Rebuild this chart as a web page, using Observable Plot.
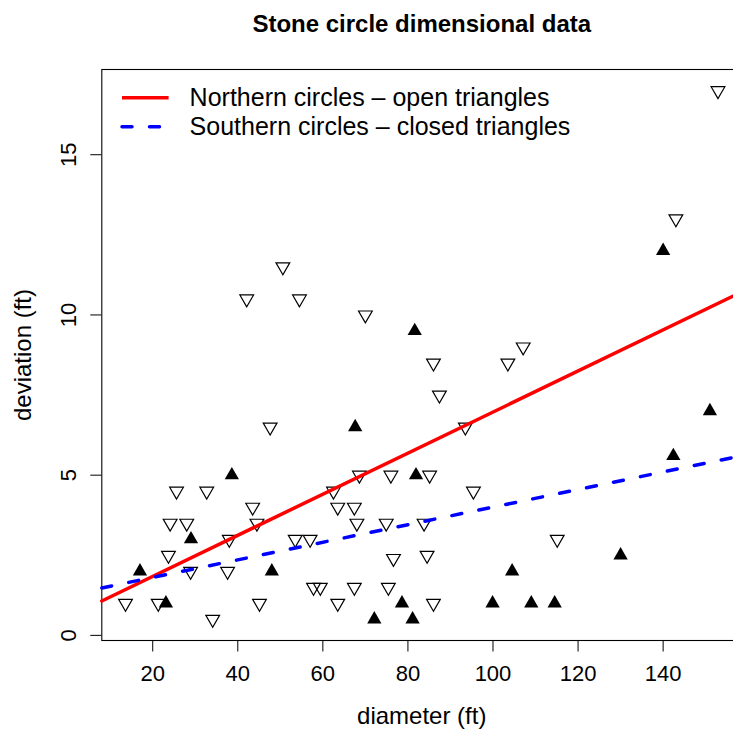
<!DOCTYPE html>
<html><head><meta charset="utf-8">
<script src="https://cdn.jsdelivr.net/npm/d3@7"></script>
<script src="https://cdn.jsdelivr.net/npm/@observablehq/plot@0.6"></script>
<style>
html,body{margin:0;padding:0;background:#fff;overflow:hidden;}
#chart{width:733px;height:729px;position:relative;}
#chart svg{overflow:hidden;}
</style></head><body><div id="chart"></div>
<script>
const FONT = "'Liberation Sans', Arial, Helvetica, sans-serif";
const titleText = "Stone circle dimensional data";
const xLabel = "diameter (ft)";
const yLabel = "deviation (ft)";
const legendLabels = ["Northern circles \u2013 open triangles", "Southern circles \u2013 closed triangles"];
const legendColors = ["red", "blue"];
const xTicks = [20, 40, 60, 80, 100, 120, 140];
const yTicks = [0, 5, 10, 15];

// Northern circles (open, down-pointing triangles)
const northDiameter = [13.6, 21.3, 23.7, 24.1, 25.6, 28, 28.9, 32.7, 34.1, 37.6, 38, 42.1, 43.5, 44.5, 45.1, 47.6,
  50.6, 53.5, 54.5, 57, 57.8, 59.4, 62.5, 63.5, 63.5, 67.4, 67.4, 68, 68.6, 70, 74.9, 75.4, 76, 76.6,
  83.8, 84.5, 85.1, 86, 86, 87.4, 93.5, 95.4, 103.5, 107.1, 115.1, 143, 152.9];
const northDeviation = [1, 1, 2.5, 3.5, 4.5, 3.5, 2, 4.5, 0.5, 2, 3, 10.5, 4, 3.5, 1, 6.5,
  11.5, 3, 10.5, 3, 1.5, 1.5, 4.5, 4, 1, 4, 1.5, 3.5, 5, 10, 3.5, 1.5, 5, 2.4,
  3.5, 2.5, 5, 8.5, 1, 7.5, 6.5, 4.5, 8.5, 9, 3, 13, 17];

// Southern circles (closed, up-pointing triangles)
const southDiameter = [17, 23.1, 29, 38.6, 48, 67.6, 72.1, 78.6, 81.1, 81.6, 81.9, 99.9, 104.5, 109, 114.5, 130, 140, 142.4, 151];
const southDeviation = [2, 1, 3, 5, 2, 6.5, 0.5, 1, 0.5, 9.5, 5, 1, 2, 1, 1, 2.5, 12, 5.6, 7];

const north = northDiameter.map((d, i) => ({diameter: d, deviation: northDeviation[i]}));
const south = southDiameter.map((d, i) => ({diameter: d, deviation: southDeviation[i]}));

function fit(xs, ys) {
  const mx = d3.mean(xs), my = d3.mean(ys);
  const b = d3.sum(xs, (x, i) => (x - mx) * (ys[i] - my)) / d3.sum(xs, x => (x - mx) ** 2);
  return {a: my - b * mx, b};
}
function extendRange(arr) {
  const [lo, hi] = d3.extent(arr);
  const p = (hi - lo) * 0.04;
  return [lo - p, hi + p];
}
const xDomain = extendRange([...northDiameter, ...southDiameter]);
const yDomain = extendRange([...northDeviation, ...southDeviation]);
const fN = fit(northDiameter, northDeviation);
const fS = fit(southDiameter, southDeviation);
const northLine = xDomain.map(x => ({diameter: x, deviation: fN.a + fN.b * x}));
const southLine = xDomain.map(x => ({diameter: x, deviation: fS.a + fS.b * x}));

const S3 = Math.sqrt(3);
const triUp = {draw(ctx, size) {
  const y = -Math.sqrt(size / (3 * S3));
  ctx.moveTo(0, 2 * y); ctx.lineTo(-S3 * y, -y); ctx.lineTo(S3 * y, -y); ctx.closePath();
}};
const triDown = {draw(ctx, size) {
  const y = -Math.sqrt(size / (3 * S3));
  ctx.moveTo(0, -2 * y); ctx.lineTo(S3 * y, y); ctx.lineTo(-S3 * y, y); ctx.closePath();
}};

const chart = Plot.plot({
  width: 733, height: 729,
  marginLeft: 101.3, marginRight: -8.2, marginTop: 69, marginBottom: 89,
  style: {fontFamily: FONT, fontSize: "22px", background: "white", color: "black"},
  x: {domain: xDomain, label: null},
  y: {domain: yDomain, label: null},
  marks: [
    Plot.frame({stroke: "black", strokeWidth: 1.1}),
    Plot.axisX(xTicks, {tickSize: 11.5, tickPadding: 13.5, fontSize: 22, label: null, stroke: "black"}),
    Plot.axisY(yTicks, {tickSize: 11, tickFormat: () => "", label: null, stroke: "black"}),
    Plot.text(yTicks, {y: d => d, text: d => String(d), frameAnchor: "left", dx: -25.9, rotate: -90,
      textAnchor: "middle", lineAnchor: "bottom", fontSize: 22, fill: "black"}),
    Plot.dot(north, {x: "diameter", y: "deviation", symbol: triDown, r: 5.1, fill: "none", stroke: "black", strokeWidth: 1.2}),
    Plot.dot(south, {x: "diameter", y: "deviation", symbol: triUp, r: 5.3, fill: "black", stroke: "none"}),
    Plot.line(northLine, {x: "diameter", y: "deviation", stroke: legendColors[0], strokeWidth: 3.5}),
    Plot.line(southLine, {x: "diameter", y: "deviation", stroke: legendColors[1], strokeWidth: 3.5,
      strokeDasharray: "10,17.5", strokeLinecap: "round"}),
    Plot.text([titleText], {text: d => d, frameAnchor: "top", dy: 31 - 69, lineAnchor: "bottom",
      fontWeight: "bold", fontSize: 24, fill: "black"}),
    Plot.text([xLabel], {text: d => d, frameAnchor: "bottom", dy: 723 - 640, lineAnchor: "bottom", fontSize: 24, fill: "black"}),
    Plot.text([yLabel], {text: d => d, frameAnchor: "left", dx: 30 - 101.3, rotate: -90, textAnchor: "middle",
      lineAnchor: "bottom", fontSize: 24, fill: "black"})
  ]
});
document.getElementById("chart").appendChild(chart);

// Legend inside the plot area (top-left)
const svg = d3.select(chart);
const lg = svg.append("g").attr("font-family", FONT).attr("font-size", 25).attr("text-anchor", "start");
legendLabels.forEach((label, i) => {
  const yLine = 97.7 + i * 29;
  lg.append("line").attr("x1", 122).attr("x2", 168.6).attr("y1", yLine).attr("y2", yLine)
    .attr("stroke", legendColors[i]).attr("stroke-width", 3.5)
    .attr("stroke-dasharray", i === 1 ? "10,17.5" : null)
    .attr("stroke-linecap", i === 1 ? "round" : "butt");
  lg.append("text").attr("x", 189.6).attr("y", 106.2 + i * 29).attr("fill", "black")
    .attr("text-anchor", "start").text(label);
});
</script>
</body></html>
